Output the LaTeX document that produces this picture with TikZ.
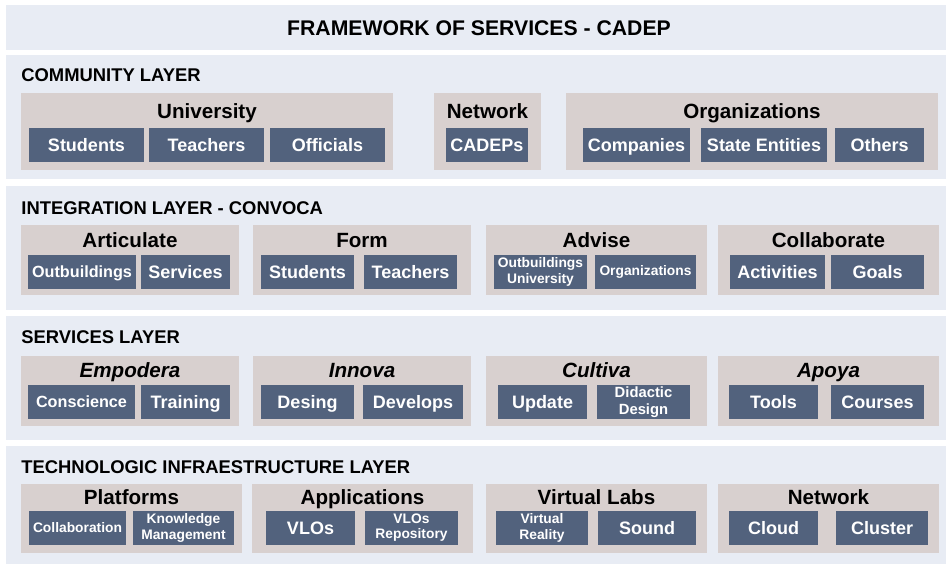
\documentclass[tikz,border=0pt]{standalone}
\usepackage{fontspec}
\setmainfont{Liberation Sans}
\usetikzlibrary{fit}
\definecolor{bandblue}{RGB}{232,236,244}
\definecolor{grptaupe}{RGB}{216,208,207}
\definecolor{itemslate}{RGB}{82,98,125}
\tikzset{%
	band/.style       = {fill=bandblue, inner sep=0pt},
	grp/.style        = {fill=grptaupe, inner sep=0pt},
	slate/.style      = {fill=itemslate, text=white, inner sep=0pt, align=center,
		minimum height=17pt},
	item/.style       = {slate, text height=6.45pt, text depth=0pt,
		font=\fontsize{9}{10}\selectfont\bfseries},
	itemmd/.style     = {slate, text height=5.8pt, text depth=0pt,
		font=\fontsize{8.1}{9}\selectfont\bfseries},
	itemsm/.style     = {slate, font=\fontsize{6.9}{7.6}\selectfont\bfseries},
	layerlabel/.style = {anchor=base west, inner sep=0pt,
		font=\fontsize{9.2}{10}\selectfont\bfseries},
	gtitle/.style     = {anchor=base, inner sep=0pt,
		font=\fontsize{10.3}{11}\selectfont\bfseries} % group title
}

\begin{document}
\begin{tikzpicture}[x=0.5pt, y=-0.5pt]
	\useasboundingbox (0,0) rectangle (947,565);

	% title
	\node[band, fit={(6,5) (946,50)}] (titleband) {};
	\node[anchor=base, inner sep=0pt, font=\fontsize{10.6}{12}\selectfont\bfseries] (title) at (479,36) {FRAMEWORK OF SERVICES - CADEP};

	% community layer
	\node[band, fit={(6,55) (946,179)}] (community) {};
	\node[layerlabel] (community-l) at (21,81.7) {COMMUNITY LAYER};
	\node[grp, fit={(21,93) (393,170)}] (univ) {};
	\node[grp, fit={(434,93) (541,170)}] (net) {};
	\node[grp, fit={(566,93) (938,170)}] (orgs) {};
	\node[gtitle] (univ-t) at ([yshift=-13pt]univ.north) {University};
	\node[gtitle] (net-t) at ([yshift=-13pt]net.north) {Network};
	\node[gtitle] (orgs-t) at ([yshift=-13pt]orgs.north) {Organizations};
	\node[item, minimum width=57.5pt] (students) at (86.5,145) {Students};
	\node[item, minimum width=57.5pt] (teachers) at (206.5,145) {Teachers};
	\node[item, minimum width=57.5pt] (officials) at (327.5,145) {Officials};
	\node[item, minimum width=41pt] (cadeps) at (487,145) {CADEPs};
	\node[item, minimum width=53.5pt] (companies) at (636.5,145) {Companies};
	\node[item, minimum width=63pt] (state) at (764,145) {State Entities};
	\node[item, minimum width=44.5pt] (others) at (879.5,145) {Others};

	% integration layer
	\node[band, fit={(6,186) (946,310)}] (integration) {};
	\node[layerlabel] (integration-l) at (21,214.3) {INTEGRATION LAYER - CONVOCA};
	\node[grp, fit={(21,225) (239,295)}] (articulate) {};
	\node[grp, fit={(253,225) (471,295)}] (form) {};
	\node[grp, fit={(486,225) (707,295)}] (advise) {};
	\node[grp, fit={(718,225) (939,295)}] (collab) {};
	\node[gtitle] (articulate-t) at ([yshift=-11.3pt]articulate.north) {Articulate};
	\node[gtitle] (form-t) at ([yshift=-11.3pt]form.north) {Form};
	\node[gtitle] (advise-t) at ([yshift=-11.3pt]advise.north) {Advise};
	\node[gtitle] (collab-t) at ([yshift=-11.3pt]collab.north) {Collaborate};
	\node[itemmd, minimum width=54pt] (outb) at (82,272) {Outbuildings};
	\node[item, minimum width=44.5pt] (services) at (185.5,272) {Services};
	\node[item, minimum width=46.5pt] (f-students) at (307.5,272) {Students};
	\node[item, minimum width=46.5pt] (f-teachers) at (410.5,272) {Teachers};
	\node[itemsm, minimum width=46.5pt] (outb-univ) at (540.5,272) {Outbuildings\\University};
	\node[itemsm, minimum width=50.5pt] (a-orgs) at (645.5,272) {Organizations};
	\node[item, minimum width=47.5pt] (activities) at (777.5,272) {Activities};
	\node[item, minimum width=46.5pt] (goals) at (877.5,272) {Goals};

	% services layer
	\node[band, fit={(6,316) (946,440)}] (servlayer) {};
	\node[layerlabel] (servlayer-l) at (21,343.3) {SERVICES LAYER};
	\node[grp, fit={(21,356) (239,426)}] (empodera) {};
	\node[grp, fit={(253,356) (471,426)}] (innova) {};
	\node[grp, fit={(486,356) (707,426)}] (cultiva) {};
	\node[grp, fit={(718,356) (939,426)}] (apoya) {};
	\node[gtitle] (empodera-t) at ([yshift=-10.8pt]empodera.north) {\itshape Empodera};
	\node[gtitle] (innova-t) at ([yshift=-10.8pt]innova.north) {\itshape Innova};
	\node[gtitle] (cultiva-t) at ([yshift=-10.8pt]cultiva.north) {\itshape Cultiva};
	\node[gtitle] (apoya-t) at ([yshift=-10.8pt]apoya.north) {\itshape Apoya};
	\node[itemmd, minimum width=53.5pt] (conscience) at (81.5,402) {Conscience};
	\node[item, minimum width=44.5pt] (training) at (185.5,402) {Training};
	\node[item, minimum width=46.5pt] (desing) at (307.5,402) {Desing};
	\node[item, minimum width=50pt] (develops) at (413,402) {Develops};
	\node[item, minimum width=44.5pt] (update) at (542.5,402) {Update};
	\node[itemsm, font=\fontsize{7.4}{8.3}\selectfont\bfseries, minimum width=46.5pt] (didactic) at (643.5,402) {Didactic\\Design};
	\node[item, minimum width=44.5pt] (tools) at (773.5,402) {Tools};
	\node[item, minimum width=46.5pt] (courses) at (877.5,402) {Courses};

	% technologic infraestructure layer
	\node[band, fit={(6,446) (946,564)}] (tech) {};
	\node[layerlabel] (tech-l) at (21,474) {TECHNOLOGIC INFRAESTRUCTURE LAYER};
	\node[grp, fit={(21,484) (242,553)}] (platforms) {};
	\node[grp, fit={(252,484) (473,553)}] (apps) {};
	\node[grp, fit={(486,484) (707,553)}] (vlabs) {};
	\node[grp, fit={(718,484) (939,553)}] (network) {};
	\node[gtitle] (platforms-t) at ([yshift=-10.5pt]platforms.north) {Platforms};
	\node[gtitle] (apps-t) at ([yshift=-10.5pt]apps.north) {Applications};
	\node[gtitle] (vlabs-t) at ([yshift=-10.5pt]vlabs.north) {Virtual Labs};
	\node[gtitle] (network-t) at ([yshift=-10.5pt]network.north) {Network};
	\node[itemsm, minimum width=48.5pt] (collaboration) at (77.5,528) {Collaboration};
	\node[itemsm, minimum width=50.5pt] (knowledge) at (183.5,528) {Knowledge\\Management};
	\node[item, minimum width=44.5pt] (vlos) at (310.5,528) {VLOs};
	\node[itemsm, minimum width=46.5pt] (vlos-repo) at (411.5,528) {VLOs\\Repository};
	\node[itemsm, minimum width=46pt] (vreality) at (542,528) {Virtual\\Reality};
	\node[item, minimum width=49pt] (sound) at (647,528) {Sound};
	\node[item, minimum width=44.5pt] (cloud) at (773.5,528) {Cloud};
	\node[item, minimum width=46pt] (cluster) at (882,528) {Cluster};
\end{tikzpicture}
\end{document}
